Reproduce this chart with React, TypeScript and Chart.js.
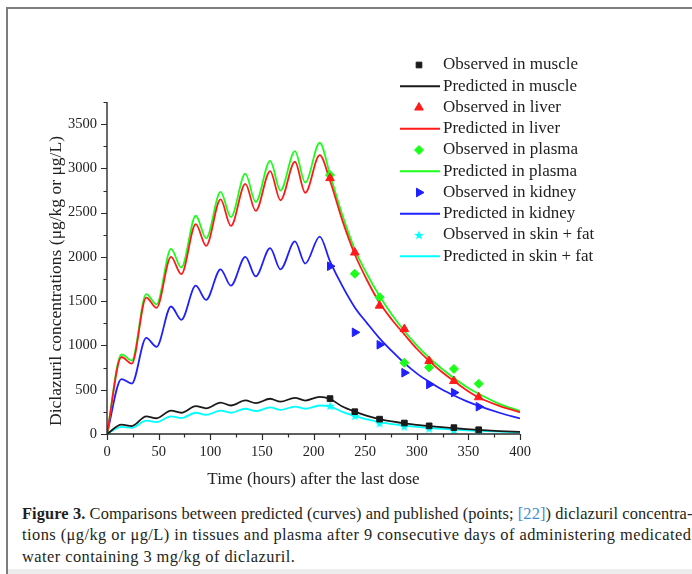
import React, { useEffect, useRef } from 'react';
import { Chart, registerables } from 'chart.js';

Chart.register(...registerables);

// ---- data -------------------------------------------------------------
// Model prediction grid (hours): dosing peaks at 14 h after each daily dose,
// troughs at each new dose, then washout after the last peak.
const predTimes = [0, 14, 24, 38, 48, 62, 72, 86, 96, 110, 120, 134, 144, 158, 168, 182, 192, 206,
  216, 228, 240, 252, 264, 276, 288, 300, 312, 324, 336, 348, 360, 380, 400];
const predMuscle = [0, 105, 90, 200, 178, 265, 240, 315, 290, 355, 322, 380, 348, 398, 365, 408, 378, 420,
  395, 310, 252, 205, 168, 142, 120, 104, 90, 77, 66, 55, 46, 33, 24];
const predLiver = [0, 870, 795, 1540, 1425, 2000, 1805, 2370, 2125, 2650, 2350, 2825, 2520, 2970, 2640, 3075, 2725, 3150,
  2860, 2410, 2030, 1734, 1482, 1291, 1125, 963, 825, 703, 600, 497, 412, 318, 245];
const predPlasma = [0, 900, 830, 1580, 1465, 2090, 1880, 2465, 2210, 2735, 2450, 2940, 2620, 3085, 2750, 3195, 2840, 3290,
  2930, 2472, 2085, 1802, 1558, 1346, 1163, 1001, 861, 740, 632, 534, 455, 341, 260];
const predKidney = [0, 620, 570, 1085, 985, 1440, 1290, 1675, 1515, 1860, 1675, 2000, 1780, 2100, 1860, 2175, 1925, 2230,
  1950, 1670, 1430, 1250, 1080, 935, 800, 685, 590, 505, 435, 372, 318, 240, 175];
const predSkinFat = [0, 80, 70, 150, 135, 200, 180, 240, 215, 265, 240, 285, 258, 300, 272, 310, 285, 322,
  310, 250, 205, 165, 135, 112, 95, 80, 68, 58, 49, 41, 35, 26, 18];

// Published observations (hours after the last dose)
const obsTimes = [216, 240, 264, 288, 312, 336, 360];
const obsMuscle = [400, 252, 168, 124, 92, 72, 48];
const obsLiver = [2890, 2050, 1450, 1185, 825, 598, 415];
const obsPlasma = [2925, 1810, 1545, 805, 752, 735, 568];
const obsKidney = [1895, 1148, 1008, 692, 560, 468, 308];
const obsSkinFat = [318, 205, 122, 85, 62, 45, 15];

const seriesNames = ['muscle', 'liver', 'plasma', 'kidney', 'skin + fat'];
const seriesColors = ['#1a1a1a', '#ff1a1a', '#1aff1a', '#2020ff', '#00ffff'];
const predSeries = [predMuscle, predLiver, predPlasma, predKidney, predSkinFat];
const obsSeries = [obsMuscle, obsLiver, obsPlasma, obsKidney, obsSkinFat];

const xTickValues = [0, 50, 100, 150, 200, 250, 300, 350, 400];
const yTickValues = [0, 500, 1000, 1500, 2000, 2500, 3000, 3500];
const X_MAX = 400;
const Y_MAX = 3750;

const xTitle = 'Time (hours) after the last dose';
const yTitle = 'Diclazuril concentrations (\u03bcg/kg or \u03bcg/L)';

const FONT = '"Liberation Serif", "Times New Roman", serif';

// ---- marker helpers ----------------------------------------------------
type Marker = { style: string; radius: number; rotation: number };
const markers: Marker[] = [
  { style: 'rect', radius: 4, rotation: 0 },
  { style: 'triangle', radius: 5, rotation: 0 },
  { style: 'rectRot', radius: 4.5, rotation: 0 },
  { style: 'triangle', radius: 5, rotation: 90 },
  { style: 'star', radius: 5, rotation: 0 },
];

function makeStar(color: string, r: number): HTMLCanvasElement {
  const size = Math.ceil(r * 2 + 2);
  const c = document.createElement('canvas');
  c.width = size;
  c.height = size;
  const g = c.getContext('2d')!;
  const cx = size / 2;
  const cy = size / 2 + 0.5;
  g.beginPath();
  for (let k = 0; k < 10; k++) {
    const rr = k % 2 === 0 ? r : r * 0.42;
    const a = -Math.PI / 2 + (k * Math.PI) / 5;
    const px = cx + rr * Math.cos(a);
    const py = cy + rr * Math.sin(a);
    if (k === 0) g.moveTo(px, py);
    else g.lineTo(px, py);
  }
  g.closePath();
  g.fillStyle = color;
  g.fill();
  return c;
}

function drawMarker(ctx: CanvasRenderingContext2D, m: Marker, x: number, y: number, color: string, star: HTMLCanvasElement) {
  ctx.save();
  ctx.fillStyle = color;
  ctx.strokeStyle = color;
  ctx.lineWidth = 1;
  if (m.style === 'star') {
    ctx.drawImage(star, x - star.width / 2, y - star.height / 2);
    ctx.restore();
    return;
  }
  ctx.translate(x, y);
  ctx.rotate((m.rotation * Math.PI) / 180);
  const r = m.radius;
  ctx.beginPath();
  if (m.style === 'rect') {
    const s = Math.SQRT1_2 * r;
    ctx.rect(-s, -s, 2 * s, 2 * s);
  } else if (m.style === 'rectRot') {
    ctx.moveTo(-r, 0);
    ctx.lineTo(0, -r);
    ctx.lineTo(r, 0);
    ctx.lineTo(0, r);
    ctx.closePath();
  } else if (m.style === 'triangle') {
    ctx.moveTo(0, -r);
    ctx.lineTo(r * 0.866, r * 0.5);
    ctx.lineTo(-r * 0.866, r * 0.5);
    ctx.closePath();
  }
  ctx.fill();
  ctx.stroke();
  ctx.restore();
}

export default function App() {
  const canvasRef = useRef<HTMLCanvasElement>(null);

  useEffect(() => {
    const canvas = canvasRef.current;
    if (!canvas) return;
    const star = makeStar(seriesColors[4], 5);

    const pointDatasets = obsSeries.map((vals, i) => ({
      type: 'line' as const,
      label: `Observed in ${seriesNames[i]}`,
      data: obsTimes.map((t, j) => ({ x: t, y: vals[j] })),
      showLine: false,
      pointStyle: markers[i].style === 'star' ? star : markers[i].style,
      pointRotation: markers[i].rotation,
      pointRadius: markers[i].radius,
      pointHoverRadius: markers[i].radius,
      pointBackgroundColor: seriesColors[i],
      pointBorderColor: seriesColors[i],
      pointBorderWidth: 1,
      borderColor: seriesColors[i],
      backgroundColor: seriesColors[i],
    }));

    const lineDatasets = predSeries.map((vals, i) => ({
      type: 'line' as const,
      label: `Predicted in ${seriesNames[i]}`,
      data: predTimes.map((t, j) => ({ x: t, y: vals[j] })),
      borderColor: seriesColors[i],
      backgroundColor: seriesColors[i],
      borderWidth: 1.8,
      pointRadius: 0,
      cubicInterpolationMode: 'monotone' as const,
      fill: false,
    }));

    const decor = {
      id: 'decor',
      afterDraw(chart: any) {
        const { ctx, chartArea: a, scales } = chart;
        const xs = scales.x;
        const ys = scales.y;
        ctx.save();
        ctx.strokeStyle = '#2b2b2b';
        ctx.lineWidth = 1.4;
        // axis lines
        ctx.beginPath();
        ctx.moveTo(a.left, ys.getPixelForValue(Y_MAX));
        ctx.lineTo(a.left, a.bottom);
        ctx.lineTo(a.right, a.bottom);
        ctx.stroke();
        // ticks (major + minor, pointing outward)
        ctx.lineWidth = 1.2;
        ctx.beginPath();
        for (let v = 0; v <= X_MAX; v += 25) {
          const px = Math.round(xs.getPixelForValue(v)) + 0.5;
          const len = xTickValues.includes(v) ? 6 : 3.5;
          ctx.moveTo(px, a.bottom);
          ctx.lineTo(px, a.bottom + len);
        }
        for (let v = 0; v <= Y_MAX; v += 250) {
          const py = Math.round(ys.getPixelForValue(v)) + 0.5;
          const len = yTickValues.includes(v) ? 6 : 3.5;
          ctx.moveTo(a.left, py);
          ctx.lineTo(a.left - len, py);
        }
        ctx.stroke();

        // axis titles
        ctx.fillStyle = '#222';
        ctx.textAlign = 'center';
        ctx.textBaseline = 'middle';
        ctx.font = `17px ${FONT}`;
        ctx.fillText(xTitle, (a.left + a.right) / 2, 480);
        ctx.save();
        ctx.translate(56, 281);
        ctx.rotate(-Math.PI / 2);
        ctx.font = `17.5px ${FONT}`;
        ctx.fillText(yTitle, 0, 0);
        ctx.restore();

        // legend (one column, upper right)
        const textX = 443;
        const markX = 419;
        const top = 65;
        const step = 21.25;
        ctx.font = `17px ${FONT}`;
        ctx.textAlign = 'left';
        seriesNames.forEach((name, i) => {
          const yObs = top + step * (2 * i);
          const yPred = top + step * (2 * i + 1);
          drawMarker(ctx, markers[i], markX, yObs, seriesColors[i], star);
          ctx.strokeStyle = seriesColors[i];
          ctx.lineWidth = 1.8;
          ctx.beginPath();
          ctx.moveTo(400, yPred);
          ctx.lineTo(440, yPred);
          ctx.stroke();
          ctx.fillStyle = '#222';
          ctx.fillText(`Observed in ${name}`, textX, yObs);
          ctx.fillText(`Predicted in ${name}`, textX, yPred);
        });
        ctx.restore();
      },
    };

    const chart = new Chart(canvas, {
      type: 'line',
      data: { datasets: [...pointDatasets, ...lineDatasets] as any },
      options: {
        responsive: false,
        animation: false,
        events: [],
        layout: { padding: { left: 47, right: 172, top: 102, bottom: 36 } },
        plugins: { legend: { display: false }, tooltip: { enabled: false }, title: { display: false } },
        scales: {
          x: {
            type: 'linear',
            min: 0,
            max: X_MAX,
            grid: { display: false, drawTicks: false },
            border: { display: false },
            afterBuildTicks: (s: any) => { s.ticks = xTickValues.map((v) => ({ value: v })); },
            afterFit: (s: any) => { s.height = 30; },
            ticks: {
              padding: 9,
              maxRotation: 0,
              autoSkip: false,
              color: '#222',
              font: { family: FONT, size: 14.5 },
              callback: (v: any) => String(v),
            },
          },
          y: {
            type: 'linear',
            min: 0,
            max: Y_MAX,
            grid: { display: false, drawTicks: false },
            border: { display: false },
            afterBuildTicks: (s: any) => { s.ticks = yTickValues.map((v) => ({ value: v })); },
            afterFit: (s: any) => { s.width = 60; },
            ticks: {
              padding: 10,
              autoSkip: false,
              color: '#222',
              font: { family: FONT, size: 14.5 },
              callback: (v: any) => String(v),
            },
          },
        },
      },
      plugins: [decor],
    });
    return () => chart.destroy();
  }, []);

  const lineStyle: React.CSSProperties = { height: 21.3, whiteSpace: 'nowrap' };
  return (
    <div style={{ position: 'fixed', left: 0, top: 0, width: 692, height: 574, background: '#fff', overflow: 'hidden' }}>
      <div style={{ position: 'absolute', left: 6, top: 7, right: 0, height: 1.5, background: '#7d7d7d' }} />
      <div style={{ position: 'absolute', left: 6, top: 7, bottom: 0, width: 1.5, background: '#7d7d7d' }} />
      <div style={{ position: 'absolute', left: 8, right: 0, top: 569, bottom: 0, background: '#ededed' }} />
      <canvas ref={canvasRef} width={692} height={500} style={{ position: 'absolute', left: 0, top: 0 }} />
      <div
        style={{
          position: 'absolute', left: 22, top: 503, width: 664,
          fontFamily: FONT, fontSize: 16.4, lineHeight: '21.3px', color: '#231f20',
        }}
      >
        <div style={{ ...lineStyle, textAlign: 'justify', textAlignLast: 'justify', letterSpacing: '0.1px' }}>
          <b>Figure 3.</b> Comparisons between predicted (curves) and published (points; <span style={{ color: '#3d8fd1' }}>[22]</span>) diclazuril concentra-
        </div>
        <div style={{ ...lineStyle, textAlign: 'justify', textAlignLast: 'justify', letterSpacing: '0.45px' }}>
          tions (μg/kg or μg/L) in tissues and plasma after 9 consecutive days of administering medicated
        </div>
        <div style={{ ...lineStyle, letterSpacing: '0.45px' }}>water containing 3 mg/kg of diclazuril.</div>
      </div>
    </div>
  );
}
